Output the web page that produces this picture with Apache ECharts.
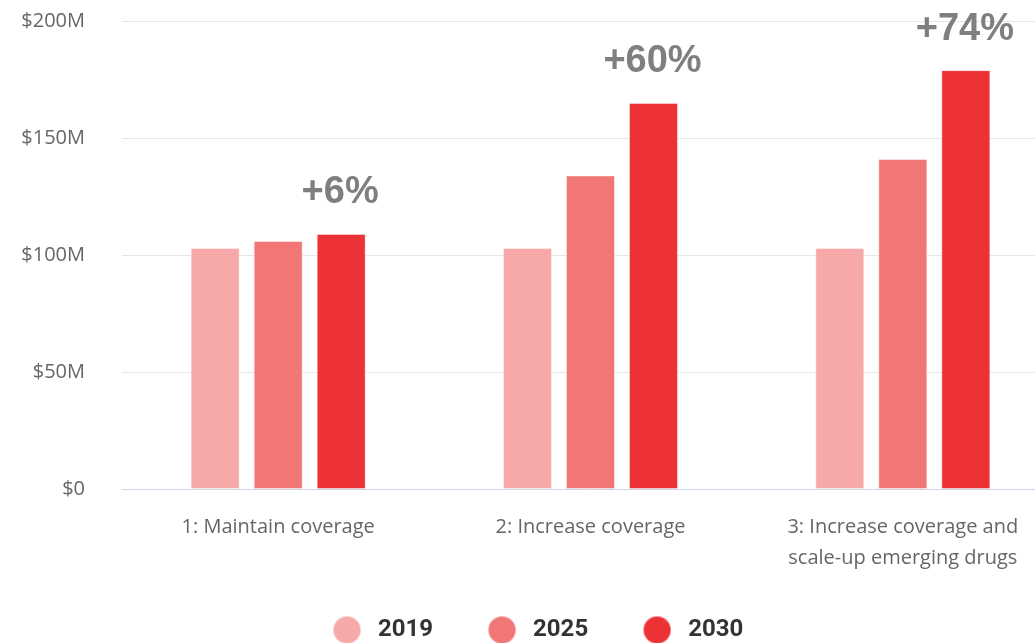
<!DOCTYPE html>
<html>
<head>
<meta charset="utf-8">
<script src="https://cdn.jsdelivr.net/npm/echarts@6/dist/echarts.min.js"></script>
<style>
  html, body { margin: 0; padding: 0; background: #fff; overflow: hidden; }
  #main { width: 1060px; height: 643px; }
</style>
</head>
<body>
<div id="main"></div>
<script>
// scenarios on the x axis
const scenarios = [
  '1: Maintain coverage',
  '2: Increase coverage',
  '3: Increase coverage and\nscale-up emerging drugs'
];
const years = ['2019', '2025', '2030'];
// funding in $M per scenario
const values2019 = [103, 103, 103];
const values2025 = [106, 134, 141];
const values2030 = [109, 165, 179];
const growthLabels = ['+6%', '+60%', '+74%'];
const yTicks = [0, 50, 100, 150, 200];

const colors = ['#f7a8a8', '#f17676', '#ec3235'];

const chart = echarts.init(document.getElementById('main'), null, { renderer: 'canvas' });

function barSeries(name, data, color, withLabel) {
  const s = {
    name: name,
    type: 'bar',
    data: data,
    barWidth: 49,
    barGap: '28.6%',
    itemStyle: {
      color: color,
      borderColor: 'rgba(255,255,255,0.45)',
      borderWidth: 1
    }
  };
  if (withLabel) {
    s.label = {
      show: true,
      position: 'top',
      distance: 22,
      formatter: p => growthLabels[p.dataIndex],
      fontFamily: 'Liberation Sans',
      fontWeight: 'bold',
      fontSize: 38,
      color: '#7f7f7f',
      offset: [-1, 0]
    };
  }
  return s;
}

const option = {
  backgroundColor: '#fff',
  animation: false,
  grid: { left: 122, right: 1, top: 21, height: 468 },
  legend: {
    data: years,
    left: 327,
    top: 610,
    icon: 'circle',
    itemWidth: 28,
    itemHeight: 28,
    itemGap: 54,
    textStyle: {
      fontFamily: 'Roboto',
      fontWeight: 'bold',
      fontSize: 24,
      color: '#333',
      padding: [0, 0, 0, 12]
    }
  },
  xAxis: {
    type: 'category',
    data: scenarios,
    axisLine: { lineStyle: { color: '#ccd6eb', width: 1 } },
    axisTick: { show: false },
    axisLabel: {
      margin: 23,
      fontFamily: 'Open Sans',
      fontSize: 20,
      lineHeight: 31,
      color: '#666'
    }
  },
  yAxis: {
    type: 'value',
    min: yTicks[0],
    max: yTicks[yTicks.length - 1],
    interval: 50,
    axisLine: { show: false },
    axisTick: { show: false },
    splitLine: { lineStyle: { color: '#e6e6e6', width: 1 } },
    axisLabel: {
      margin: 37,
      fontFamily: 'Open Sans',
      fontSize: 20,
      color: '#666',
      formatter: v => v === 0 ? '$0' : '$' + v + 'M'
    }
  },
  series: [
    barSeries(years[0], values2019, colors[0], false),
    barSeries(years[1], values2025, colors[1], false),
    barSeries(years[2], values2030, colors[2], true)
  ]
};

chart.setOption(option);
</script>
</body>
</html>
